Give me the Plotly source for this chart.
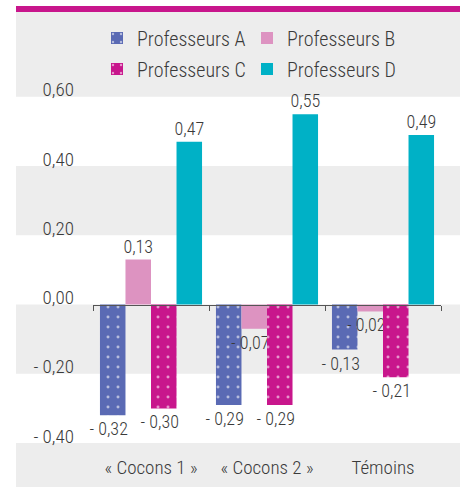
import plotly.graph_objects as go

# ---- data ----
CATEGORIES = ["« Cocons 1 »", "« Cocons 2 »", "Témoins"]
SERIES_NAMES = ["Professeurs A", "Professeurs B", "Professeurs C", "Professeurs D"]
PROF_A = [-0.32, -0.29, -0.13]
PROF_B = [0.13, -0.07, -0.02]
PROF_C = [-0.30, -0.29, -0.21]
PROF_D = [0.47, 0.55, 0.49]
Y_TICKS = [-0.4, -0.2, 0.0, 0.2, 0.4, 0.6]
Y_TICK_TEXT = ["- 0,40", "- 0,20", "0,00", "0,20", "0,40", "0,60"]

# ---- style ----
COLORS = ["#5A6AB4", "#DD93C1", "#C8168C", "#00B1C6"]
DOTTED = [True, False, True, False]
LEGENDS = ["legend", "legend", "legend2", "legend2"]
FONT = "Roboto Condensed, Roboto, sans-serif"
TXT = "#3a3a3a"
GRAY = "#EDEDED"
Y_RANGE = [-0.527, 0.845]


def fmt(v):
    s = f"{abs(v):.2f}".replace(".", ",")
    # negative labels sit flush with the bar's right edge in the original
    return ("- " + s + "\u00a0\u00a0") if v < 0 else s


fig = go.Figure()
for name, vals, col, dot, lg in zip(SERIES_NAMES, [PROF_A, PROF_B, PROF_C, PROF_D],
                                    COLORS, DOTTED, LEGENDS):
    pattern = dict(shape=".", fgcolor="white", fgopacity=0.55, size=10, solidity=0.07) if dot else dict(shape="")
    fig.add_trace(go.Bar(
        x=CATEGORIES, y=vals, name=name, legend=lg,
        marker=dict(color=col, pattern=pattern, line=dict(width=14, color="rgba(0,0,0,0)")),
        text=[fmt(v) for v in vals], textposition="outside", constraintext="none",
        cliponaxis=False, hoverinfo="skip",
        textfont=dict(family=FONT, size=18, color=TXT, weight=300),
    ))
# empty trace so the category-label axis is drawn
fig.add_trace(go.Scatter(x=[], y=[], xaxis="x2", showlegend=False, hoverinfo="skip"))

shapes = [dict(type="rect", xref="paper", yref="paper", x0=0, x1=1, y0=0, y1=1,
               fillcolor=GRAY, line=dict(width=0), layer="below")]
for lo, hi in [(0.4, 0.6), (0.0, 0.2), (-0.4, -0.2)]:
    shapes.append(dict(type="rect", xref="paper", yref="y", x0=0, x1=1, y0=lo, y1=hi,
                       fillcolor="white", line=dict(width=0), layer="below"))
# magenta top rule
shapes.append(dict(type="rect", xref="paper", yref="paper", x0=0, x1=1,
                   ysizemode="pixel", yanchor=1, y0=0, y1=6,
                   fillcolor="#C8168C", line=dict(width=0)))

x_dom = [(93 - 16) / 444, (441 - 16) / 444]
zero_pos = (0 - Y_RANGE[0]) / (Y_RANGE[1] - Y_RANGE[0])

leg_common = dict(orientation="h", font=dict(family=FONT, size=20, color=TXT, weight=300),
                  bgcolor="rgba(0,0,0,0)", entrywidth=105, entrywidthmode="pixels",
                  xanchor="left", yanchor="middle", itemclick=False, borderwidth=0)

fig.update_layout(
    width=464, height=487,
    margin=dict(l=16, r=4, t=12, b=0, autoexpand=False),
    paper_bgcolor="white", plot_bgcolor="rgba(0,0,0,0)",
    barmode="group", bargap=0.12, bargroupgap=0,
    shapes=shapes,
    showlegend=True, hovermode=False,
    legend=dict(x=(97 - 16) / 444, y=(487 - 38) / 475, **leg_common),
    legend2=dict(x=(97 - 16) / 444, y=(487 - 69) / 475, **leg_common),
    xaxis=dict(domain=x_dom, type="category", anchor="free", position=zero_pos,
               showline=True, linecolor="#555", linewidth=1,
               ticks="outside", ticklen=5, tickcolor="#555", tickson="boundaries",
               showticklabels=False, showgrid=False, zeroline=False, fixedrange=True),
    xaxis2=dict(overlaying="x", anchor="y", side="bottom", range=[-0.5, 2.5],
                tickmode="array", tickvals=[0, 1, 2], ticktext=CATEGORIES,
                ticklabelposition="inside", ticklabelstandoff=6, ticks="",
                showline=False, showgrid=False, zeroline=False,
                tickfont=dict(family=FONT, size=19, color=TXT, weight=300)),
    yaxis=dict(range=Y_RANGE, anchor="x", tickmode="array", tickvals=Y_TICKS,
               ticktext=Y_TICK_TEXT, ticks="", showgrid=False, zeroline=False,
               showline=False, ticklabelstandoff=18, ticklabelshift=-7,
               tickfont=dict(family=FONT, size=19, color=TXT, weight=300)),
)

fig.write_html("out.html", config={"displayModeBar": False, "staticPlot": True},
               post_script="document.body.style.margin='0';")
